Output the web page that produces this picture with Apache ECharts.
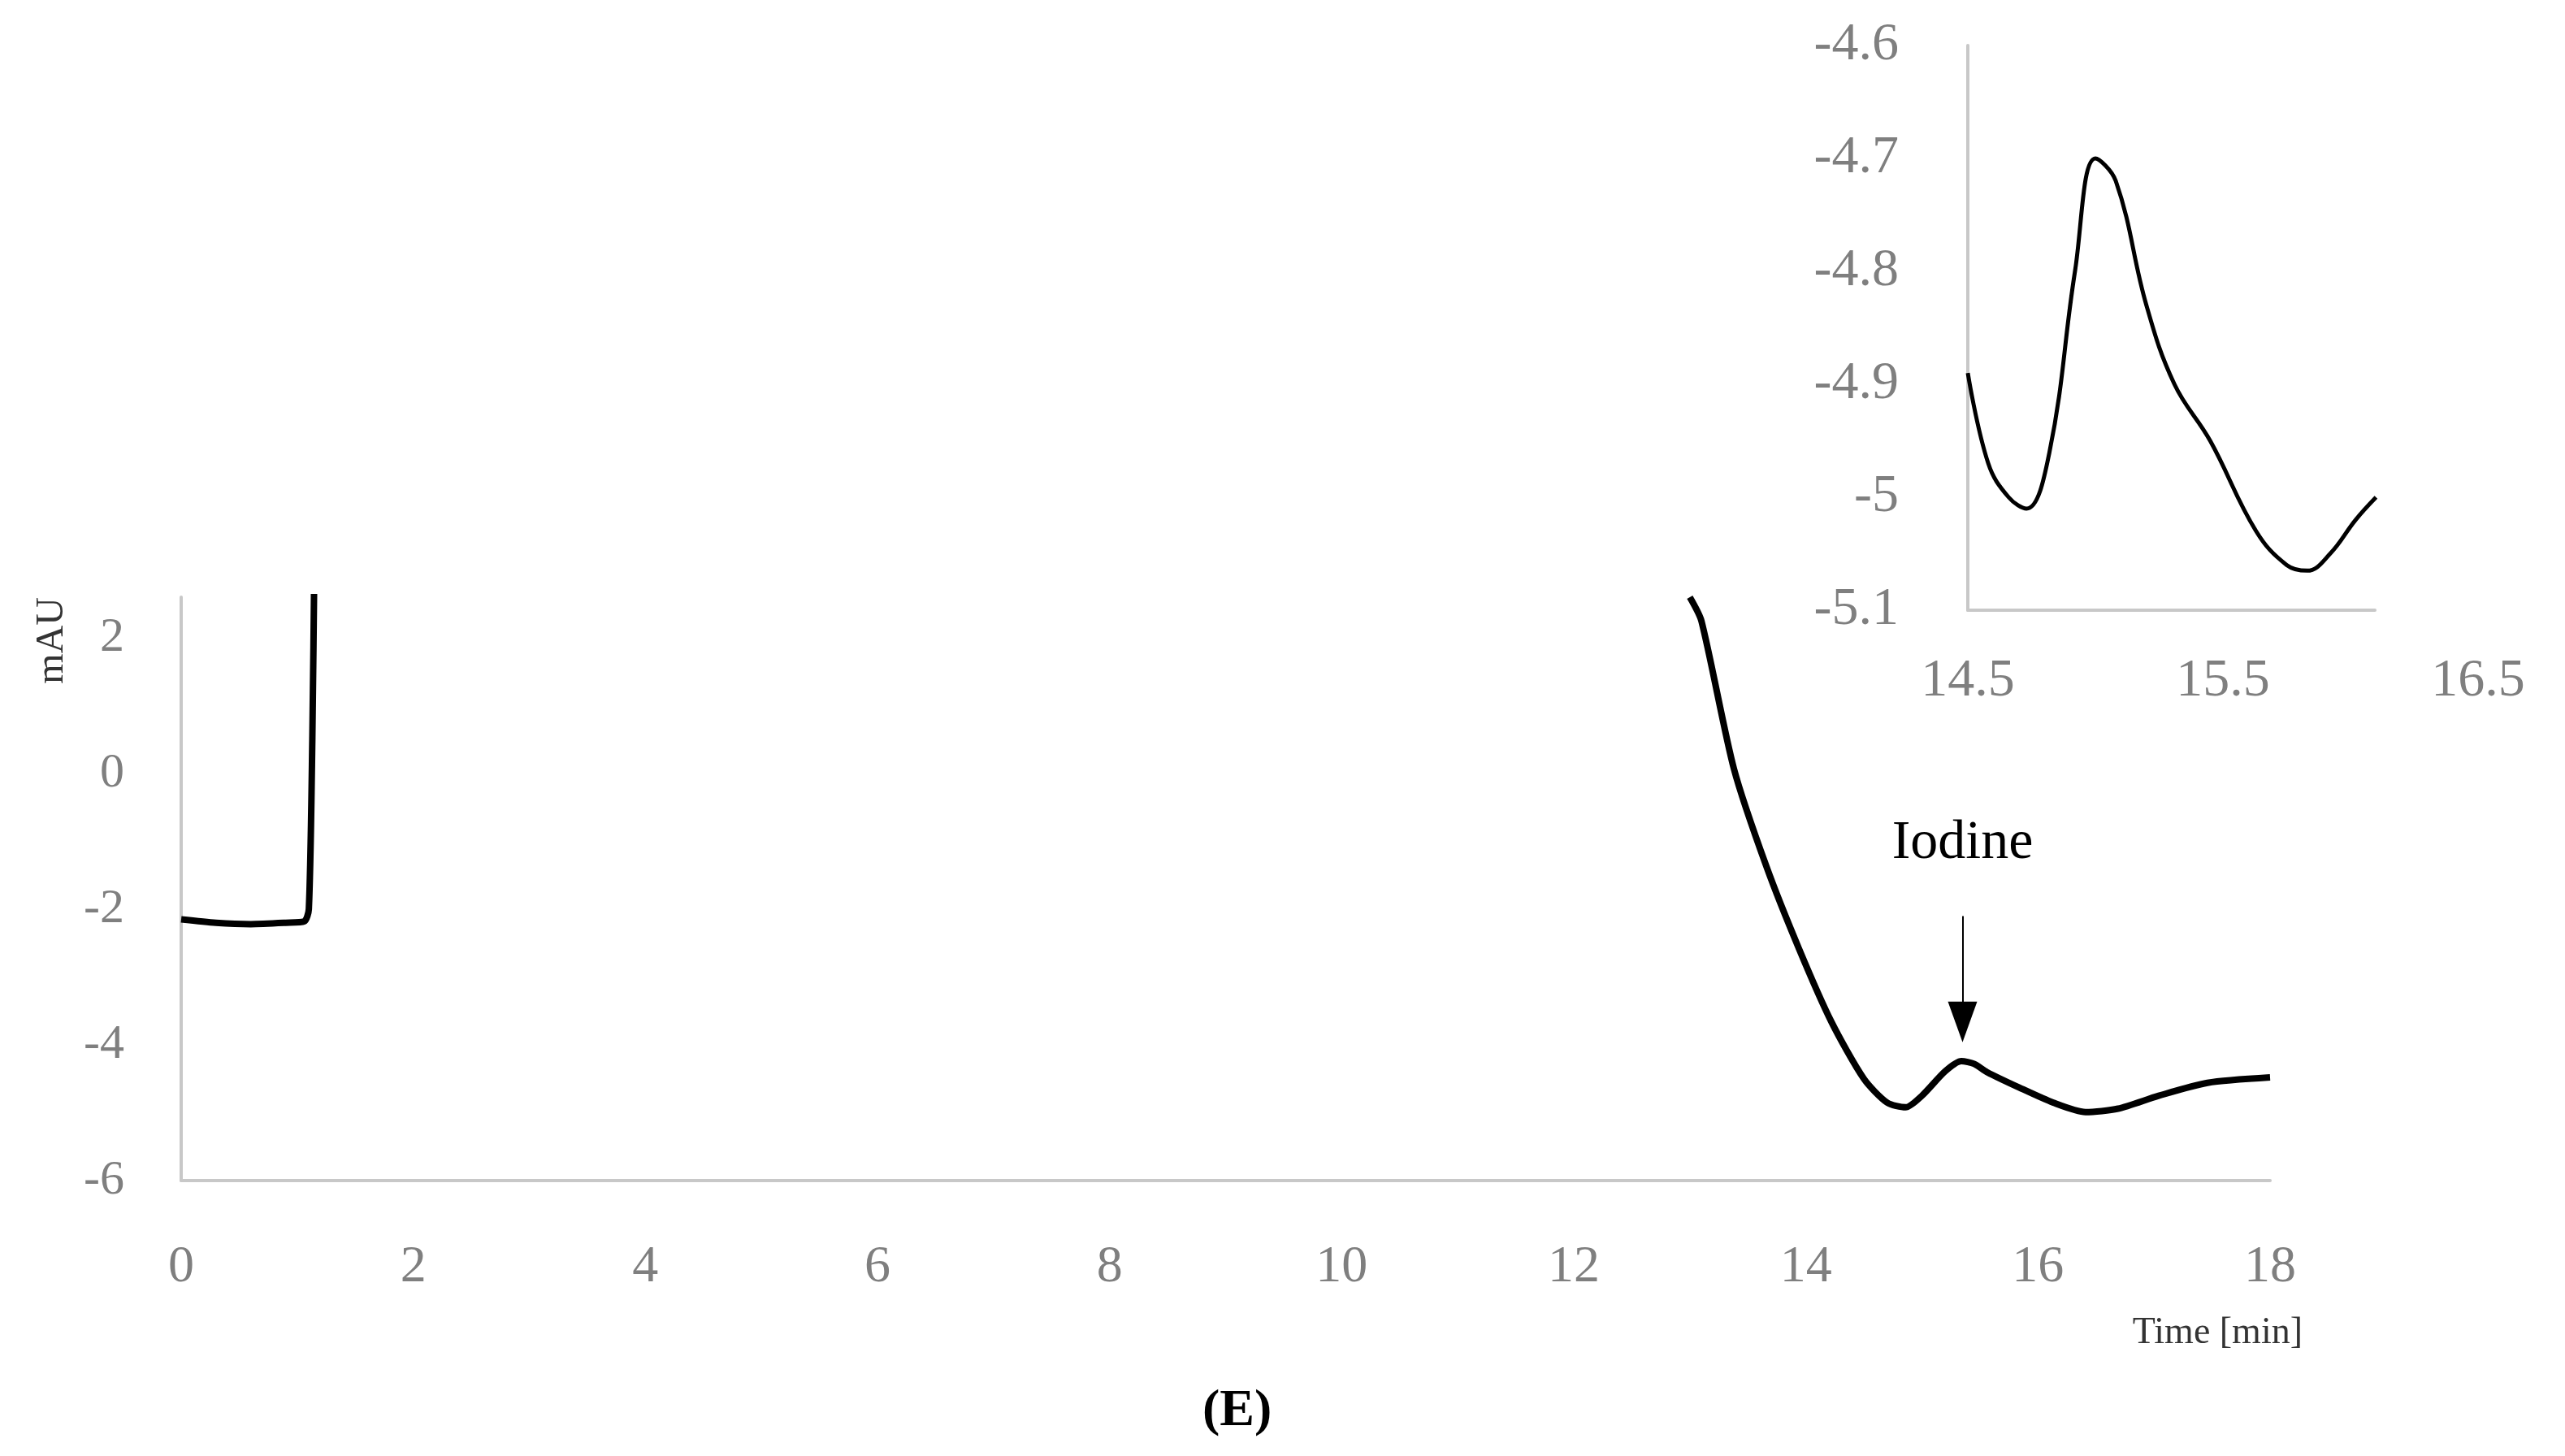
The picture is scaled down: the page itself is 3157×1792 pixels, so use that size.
<!DOCTYPE html>
<html><head><meta charset="utf-8">
<script src="https://cdn.jsdelivr.net/npm/echarts@6/dist/echarts.min.js"></script>
<style>html,body{margin:0;padding:0;background:#fff}#c{width:3157px;height:1792px}</style>
</head><body><div id="c"></div>
<script>
const mainTicksX = [0,2,4,6,8,10,12,14,16,18];
const mainTicksY = [-6,-4,-2,0,2];
const earlyTime = [0,0.3,0.6,0.9,1.06,1.1,1.13,1.15];
const earlySignal = [-2.15,-2.2,-2.22,-2.2,-2.18,-2.0,0.5,3.5];
const lateTime = [13.0,13.1,13.38,13.66,13.94,14.22,14.5,14.7,14.86,15.0,15.2,15.34,15.45,15.56,15.84,16.13,16.41,16.69,17.04,17.46,18.0];
const lateSignal = [2.6,2.25,0.07,-1.37,-2.58,-3.66,-4.5,-4.85,-4.92,-4.75,-4.39,-4.24,-4.28,-4.4,-4.63,-4.85,-4.99,-4.94,-4.75,-4.56,-4.48];
const insetTime = [14.5,14.58,14.66,14.73,14.82,14.92,15.0,15.08,15.2,15.31,15.45,15.63,15.75,15.83,15.92,16.02,16.1];
const insetSignal = [-4.89,-4.97,-5.0,-5.01,-4.96,-4.8,-4.7,-4.72,-4.83,-4.9,-4.95,-5.03,-5.06,-5.065,-5.05,-5.02,-5.0];
const insetTicksX = [14.5,15.5,16.5];
const insetTicksY = [-5.1,-5,-4.9,-4.8,-4.7,-4.6];
const peakTime = 15.35;

const serif = "'Liberation Serif','DejaVu Serif',serif";
const gray = '#7f7f7f';
const axisGray = '#c8c8c8';
const chart = echarts.init(document.getElementById('c'));
const mainData = earlyTime.map((t,i)=>[t,earlySignal[i]]).concat([[null,null]]).concat(lateTime.map((t,i)=>[t,lateSignal[i]]));
chart.setOption({
  backgroundColor:'#fff',
  animation:false,
  grid:[
    {left:223,right:363,top:735,bottom:339},
    {left:2422,right:107,top:56,bottom:1041},
    {left:2422,right:234,top:56,bottom:1041}
  ],
  xAxis:[
    {gridIndex:0,type:'value',min:0,max:18,interval:2,
     axisLine:{onZero:false,lineStyle:{color:axisGray,width:4}},axisTick:{show:false},splitLine:{show:false},
     axisLabel:{margin:75,color:gray,fontFamily:serif,fontSize:64,formatter:v=>mainTicksX.includes(v)?String(v):''},
     name:'Time [min]',nameLocation:'end',nameGap:0,
     nameTextStyle:{color:'#333',fontFamily:serif,fontSize:46,align:'right',verticalAlign:'top',padding:[165,-40,0,0]}},
    {gridIndex:1,type:'value',min:14.5,max:16.5,interval:1,
     axisLine:{show:false},axisTick:{show:false},splitLine:{show:false},
     axisLabel:{margin:55,color:gray,fontFamily:serif,fontSize:66,formatter:v=>insetTicksX.includes(v)?String(v):''}},
    {gridIndex:2,type:'value',min:14.5,max:16.1,
     axisLine:{onZero:false,lineStyle:{color:axisGray,width:4}},axisTick:{show:false},splitLine:{show:false},axisLabel:{show:false}}
  ],
  yAxis:[
    {gridIndex:0,type:'value',min:-6,max:2.6,interval:2,
     axisLine:{show:true,onZero:false,lineStyle:{color:axisGray,width:4}},axisTick:{show:false},splitLine:{show:false},
     axisLabel:{margin:70,color:gray,fontFamily:serif,fontSize:60,showMaxLabel:false,formatter:v=>mainTicksY.includes(v)?String(v):''},
     name:'mAU',nameLocation:'end',nameRotate:90,nameGap:0,
     nameTextStyle:{color:'#333',fontFamily:serif,fontSize:48,align:'right',verticalAlign:'bottom',padding:[0,0,135,0]}},
    {gridIndex:1,type:'value',min:-5.1,max:-4.6,interval:0.1,
     axisLine:{show:true,onZero:false,lineStyle:{color:axisGray,width:4}},axisTick:{show:false},splitLine:{show:false},
     axisLabel:{margin:85,color:gray,fontFamily:serif,fontSize:66,formatter:v=>{const r=Math.round(v*10)/10;return insetTicksY.includes(r)?String(r):'';}}},
    {gridIndex:2,type:'value',min:-5.1,max:-4.6,show:false}
  ],
  series:[
    {type:'line',xAxisIndex:0,yAxisIndex:0,data:mainData,smooth:0.25,symbol:'none',clip:true,connectNulls:false,
     lineStyle:{color:'#000',width:8},
     markLine:{silent:true,symbol:['none','triangle'],symbolSize:[36,50],
       lineStyle:{color:'#000',width:2,type:'solid'},
       label:{show:true,position:'start',formatter:'Iodine',color:'#000',fontFamily:serif,fontSize:68,distance:55},
       data:[[{coord:[peakTime,-2.1]},{coord:[peakTime,-3.66]}]]}},
    {type:'line',xAxisIndex:1,yAxisIndex:1,data:insetTime.map((t,i)=>[t,insetSignal[i]]),smooth:0.4,symbol:'none',clip:true,
     lineStyle:{color:'#000',width:5}}
  ],
  graphic:[{type:'text',left:1480,top:1705,style:{text:'(E)',fontFamily:serif,fontSize:64,fill:'#000',fontWeight:'bold'}}]
});
</script></body></html>
